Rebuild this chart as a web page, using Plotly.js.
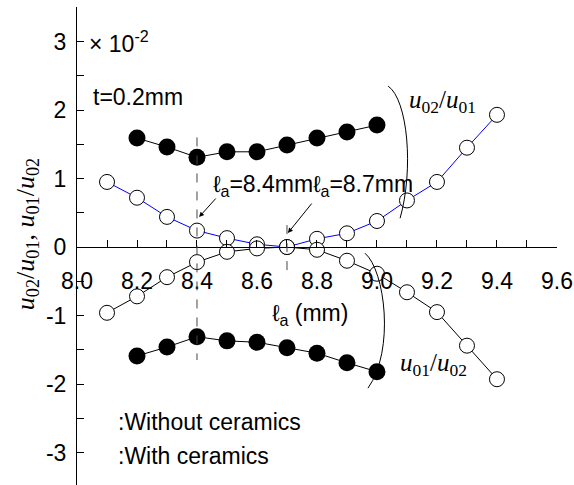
<!DOCTYPE html>
<html>
<head>
<meta charset="utf-8">
<script src="https://cdn.plot.ly/plotly-3.0.1.min.js"></script>
<style>html,body{margin:0;padding:0;background:#fff;}#chart{width:574px;height:485px;}</style>
</head>
<body>
<div id="chart"></div>
<script>
// ---- data (values ×10^-2) ----
var xOpen = [8.1, 8.2, 8.3, 8.4, 8.5, 8.6, 8.7, 8.8, 8.9, 9.0, 9.1, 9.2, 9.3, 9.4];
var openU02U01 = [0.95, 0.72, 0.44, 0.24, 0.13, 0.04, 0.0, 0.12, 0.20, 0.38, 0.68, 0.95, 1.45, 1.93];
var openU01U02 = [-0.96, -0.72, -0.44, -0.22, -0.07, -0.02, 0.0, -0.04, -0.20, -0.39, -0.66, -0.95, -1.44, -1.93];
var xFilled = [8.2, 8.3, 8.4, 8.5, 8.6, 8.7, 8.8, 8.9, 9.0];
var filledU02U01 = [1.59, 1.46, 1.31, 1.39, 1.39, 1.49, 1.59, 1.68, 1.78];
var filledU01U02 = [-1.59, -1.46, -1.31, -1.37, -1.39, -1.47, -1.55, -1.69, -1.82];
var yTickVals = [-3, -2, -1, 0, 1, 2, 3];
var yTickText = ['-3', '-2', '-1', '0', '1', '2', '3'];
var xTickVals = [8.0, 8.2, 8.4, 8.6, 8.8, 9.0, 9.2, 9.4, 9.6];
var xTickText = ['8.0', '8.2', '8.4', '8.6', '8.8', '9.0', '9.2', '9.4', '9.6'];
var optimumLa = [8.4, 8.7];
var legendLabels = [':Without ceramics', ':With ceramics'];

var FONT = '"Liberation Sans", Arial, sans-serif';
var SERIF = '"Liberation Serif", "Times New Roman", serif';
var FS = 23;
var yMin = -3.474, yMax = 3.504;

function openTrace(x, y, col) {
  return {x: x, y: y, type: 'scatter', mode: 'lines+markers', showlegend: false,
    line: {color: col, width: 1},
    marker: {symbol: 'circle', size: 15, color: '#fff', line: {color: '#000', width: 1}}};
}
function filledTrace(x, y) {
  return {x: x, y: y, type: 'scatter', mode: 'lines+markers', showlegend: false,
    line: {color: '#000', width: 1},
    marker: {symbol: 'circle', size: 17, color: '#000'}};
}
var traces = [
  openTrace(xOpen, openU02U01, '#0000ff'),
  openTrace(xOpen, openU01U02, '#000'),
  filledTrace(xFilled, filledU02U01),
  filledTrace(xFilled, filledU01U02)
];

var uu = function(a, b) { return '<i>u</i><sub>' + a + '</sub>/<i>u</i><sub>' + b + '</sub>'; };

var annotations = [
  {xref: 'x', yref: 'y', x: 8.033, y: 3.0, xanchor: 'left', yanchor: 'middle', showarrow: false,
   text: '× 10<sup>-2</sup>', font: {family: FONT, size: FS, color: '#000'}},
  {xref: 'x', yref: 'y', x: 8.048, y: 2.19, xanchor: 'left', yanchor: 'middle', showarrow: false,
   text: 't=0.2mm', font: {family: FONT, size: FS, color: '#000'}},
  {xref: 'x', yref: 'y', x: 8.448, y: 0.9, xanchor: 'left', yanchor: 'middle', showarrow: false,
   text: 'ℓ<sub>a</sub>=8.4mm', font: {family: FONT, size: FS, color: '#000'}},
  {xref: 'x', yref: 'y', x: 8.78, y: 0.9, xanchor: 'left', yanchor: 'middle', showarrow: false,
   text: 'ℓ<sub>a</sub>=8.7mm', font: {family: FONT, size: FS, color: '#000'}},
  {xref: 'x', yref: 'y', x: 8.407, y: 0.438, ax: 18, ay: -20, text: '', showarrow: true,
   arrowhead: 2, arrowsize: 1, arrowwidth: 1, arrowcolor: '#000'},
  {xref: 'x', yref: 'y', x: 8.703, y: 0.204, ax: 25, ay: -31, text: '', showarrow: true,
   arrowhead: 2, arrowsize: 1, arrowwidth: 1, arrowcolor: '#000'},
  {xref: 'x', yref: 'y', x: 8.777, y: -0.98, xanchor: 'center', yanchor: 'middle', showarrow: false,
   text: 'ℓ<sub>a</sub> (mm)', font: {family: FONT, size: FS, color: '#000'}},
  {xref: 'x', yref: 'y', x: 9.22, y: 2.12, xanchor: 'center', yanchor: 'middle', showarrow: false,
   text: uu('02', '01'), font: {family: SERIF, size: 25, color: '#000'}},
  {xref: 'x', yref: 'y', x: 9.187, y: -1.72, xanchor: 'center', yanchor: 'middle', showarrow: false,
   text: uu('01', '02'), font: {family: SERIF, size: 25, color: '#000'}},
  {xref: 'paper', yref: 'paper', x: -0.104, y: 0.525, xanchor: 'center', yanchor: 'middle', showarrow: false,
   textangle: -90, text: uu('02', '01') + ', ' + uu('01', '02'), font: {family: SERIF, size: 26, color: '#000'}},
  {xref: 'x', yref: 'y', x: 8.13, y: -2.56, xanchor: 'left', yanchor: 'middle', showarrow: false,
   text: legendLabels[0], font: {family: FONT, size: FS, color: '#000'}},
  {xref: 'x', yref: 'y', x: 8.13, y: -3.05, xanchor: 'left', yanchor: 'middle', showarrow: false,
   text: legendLabels[1], font: {family: FONT, size: FS, color: '#000'}}
];

var shapes = [
  {type: 'line', xref: 'x', yref: 'y', x0: optimumLa[0], x1: optimumLa[0], y0: 1.6, y1: -1.65,
   line: {color: '#444', width: 1, dash: 'dash'}},
  {type: 'line', xref: 'x', yref: 'y', x0: optimumLa[1], x1: optimumLa[1], y0: 0.32, y1: -0.36,
   line: {color: '#444', width: 1, dash: 'dash'}},
  {type: 'path', xref: 'x', yref: 'y', line: {color: '#000', width: 1},
   path: 'M 9.037 2.35 C 9.103 2.15 9.123 1.13 9.077 0.42'},
  {type: 'path', xref: 'x', yref: 'y', line: {color: '#000', width: 1},
   path: 'M 8.96 -0.09 C 9.027 -0.34 9.06 -1.51 8.97 -2.06'}
];

var layout = {
  width: 574, height: 485,
  margin: {l: 77, r: 17, t: 7, b: 0},
  paper_bgcolor: '#fff', plot_bgcolor: '#fff',
  showlegend: false,
  font: {family: FONT, size: FS, color: '#000'},
  xaxis: {range: [8.0, 9.6001], anchor: 'free', position: (0 - yMin) / (yMax - yMin),
    showgrid: false, zeroline: false, showline: true, linecolor: '#000', linewidth: 1,
    ticks: 'inside', ticklen: 7, tickwidth: 1, tickcolor: '#000',
    tickvals: xTickVals, ticktext: xTickText, ticklabelstandoff: 13,
    minor: {dtick: 0.1, tick0: 8.0, ticks: 'inside', ticklen: 7, tickwidth: 1, tickcolor: '#000', showgrid: false},
    tickfont: {family: FONT, size: FS, color: '#000'}},
  yaxis: {range: [yMin, yMax], showgrid: false, zeroline: false, showline: true, linecolor: '#000', linewidth: 1,
    ticks: 'inside', ticklen: 7, tickwidth: 1, tickcolor: '#000',
    tickvals: yTickVals, ticktext: yTickText, ticklabelstandoff: 5,
    minor: {dtick: 0.5, tick0: 0, ticks: 'inside', ticklen: 7, tickwidth: 1, tickcolor: '#000', showgrid: false},
    tickfont: {family: FONT, size: FS, color: '#000'}},
  annotations: annotations,
  shapes: shapes
};

Plotly.newPlot('chart', traces, layout, {staticPlot: true, displayModeBar: false});
</script>
</body>
</html>
